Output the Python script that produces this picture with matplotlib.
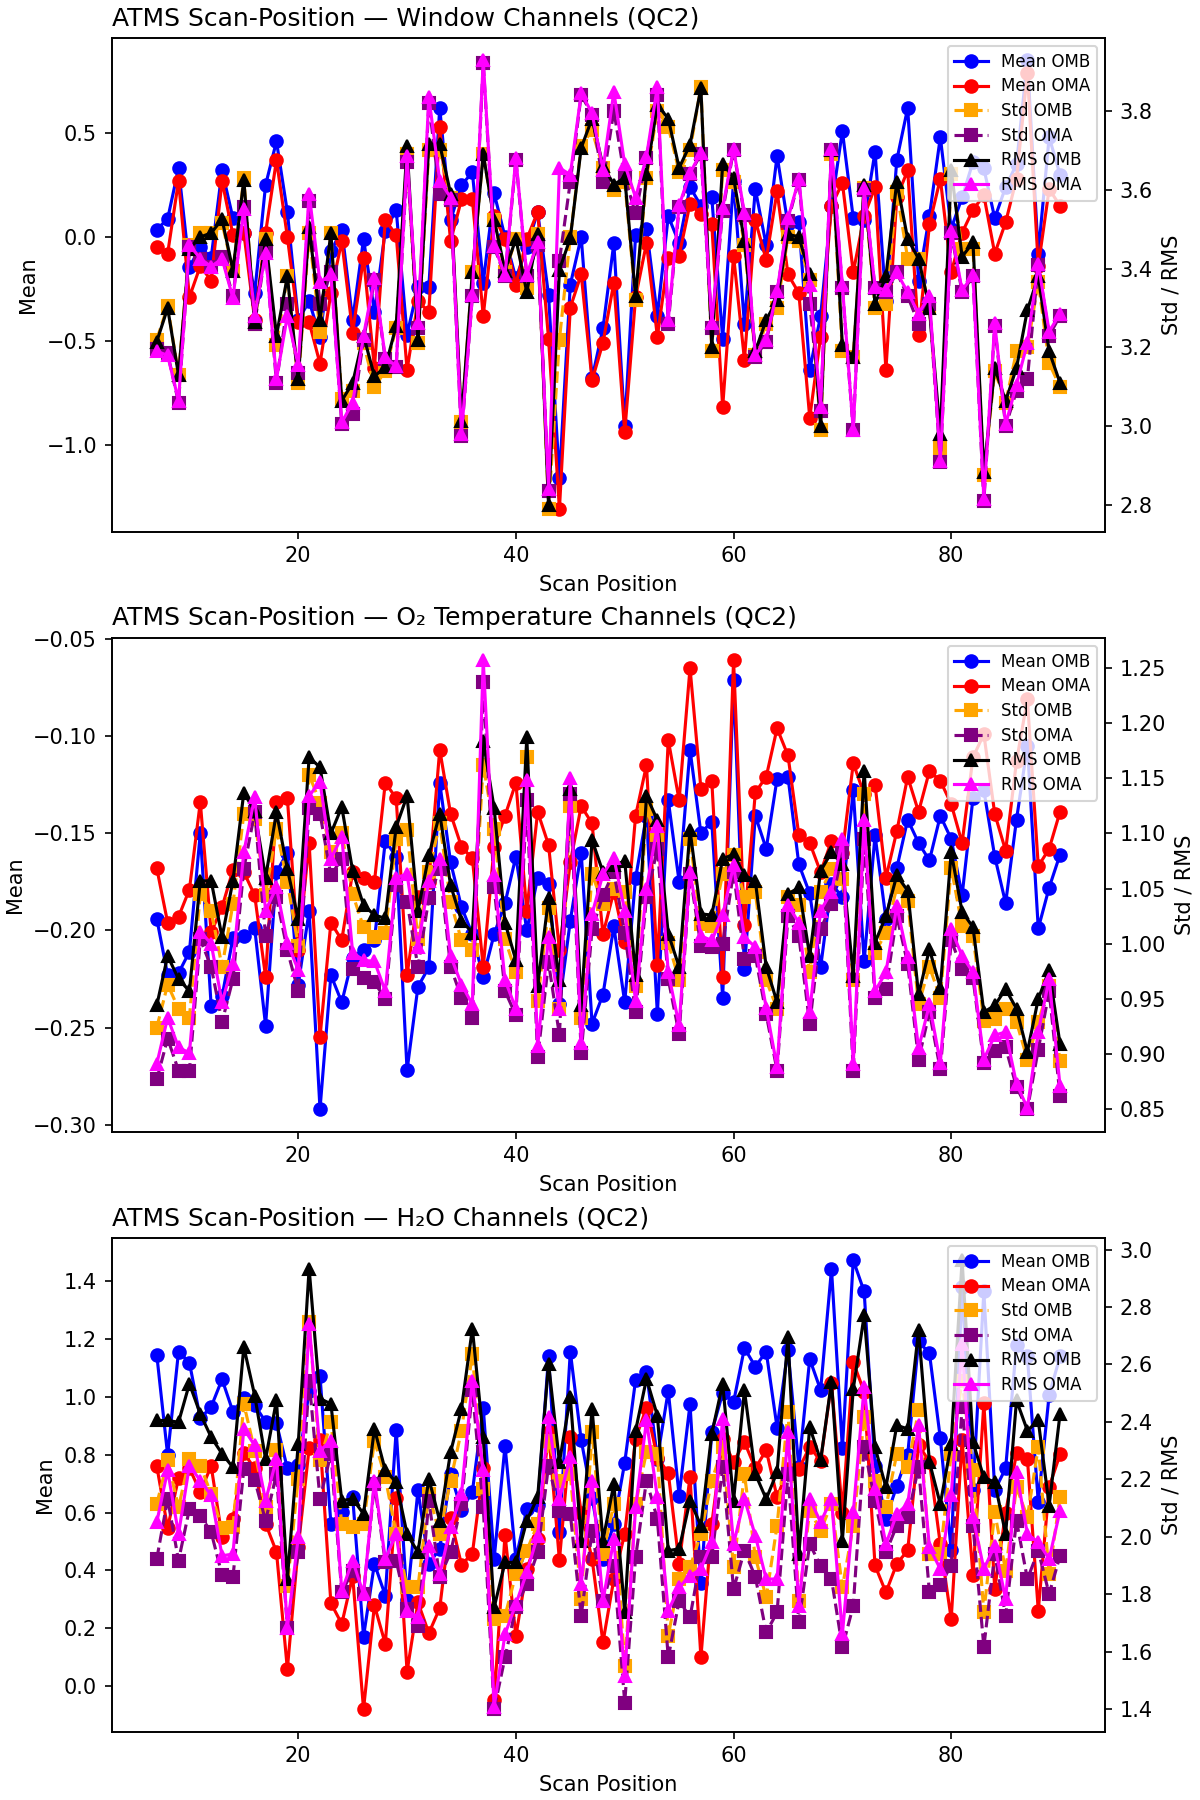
import numpy as np
import matplotlib
matplotlib.use("Agg")
import matplotlib.pyplot as plt

# scan positions 7..90
scanPos = list(range(7, 91))

# ---- Window channels ----
winMeanOMB = [0.035, 0.087, 0.33, -0.145, -0.05, -0.1, 0.32, 0.09, 0.02, -0.27,
              0.25, 0.46, 0.12, -0.4, -0.31, -0.48, -0.07, 0.035, -0.4, -0.01,
              -0.36, 0.03, 0.13, -0.47, -0.24, -0.24, 0.62, 0.08, 0.25, 0.31,
              -0.22, 0.21, 0.0, -0.2, -0.05, 0.12, -0.28, -1.16, -0.23, 0.0,
              -0.68, -0.44, -0.03, -0.91, 0.01, 0.04, -0.38, 0.1, -0.03, 0.24,
              0.15, 0.19, -0.49, 0.27, -0.42, 0.23, -0.04, 0.39, 0.06, 0.07,
              -0.64, -0.38, 0.15, 0.51, 0.09, 0.08, 0.41, -0.31, 0.37, 0.62,
              -0.21, 0.1, 0.48, 0.04, 0.19, 0.36, 0.33, 0.09, 0.24, 0.35,
              0.85, -0.08, 0.48, 0.3]
winMeanOMA = [-0.05, -0.08, 0.27, -0.29, -0.14, -0.21, 0.27, 0.01, 0.02, -0.4,
              0.02, 0.37, 0.0, -0.41, -0.41, -0.61, -0.27, -0.02, -0.46, -0.1,
              -0.63, 0.08, 0.01, -0.64, -0.31, -0.36, 0.53, -0.02, 0.18, 0.18,
              -0.38, 0.1, -0.01, -0.23, -0.01, 0.12, -0.49, -1.31, -0.34, -0.18,
              -0.69, -0.51, -0.22, -0.94, -0.29, -0.03, -0.48, -0.1, -0.09, 0.16,
              0.11, 0.06, -0.82, -0.09, -0.59, 0.08, -0.11, 0.22, -0.18, -0.27,
              -0.87, -0.48, 0.15, 0.26, -0.17, 0.1, 0.24, -0.64, 0.19, 0.32,
              -0.47, 0.06, 0.28, -0.17, 0.02, 0.13, 0.2, -0.08, 0.07, 0.28,
              0.79, -0.14, 0.23, 0.15]
winStdOMB = [3.22, 3.305, 3.13, 3.46, 3.49, 3.49, 3.515, 3.395, 3.63, 3.26,
             3.475, 3.205, 3.38, 3.11, 3.49, 3.24, 3.49, 3.07, 3.09, 3.21,
             3.1, 3.14, 3.25, 3.69, 3.21, 3.70, 3.70, 3.58, 3.01, 3.39,
             3.69, 3.524, 3.39, 3.475, 3.35, 3.488, 2.79, 3.22, 3.48, 3.71,
             3.75, 3.655, 3.60, 3.62, 3.32, 3.63, 3.80, 3.76, 3.645, 3.70,
             3.86, 3.19, 3.65, 3.62, 3.46, 3.18, 3.26, 3.30, 3.48, 3.47,
             3.37, 2.99, 3.69, 3.19, 3.175, 3.605, 3.30, 3.31, 3.595, 3.425,
             3.425, 3.3, 2.945, 3.64, 3.45, 3.45, 2.876, 3.14, 3.06, 3.19,
             3.20, 3.365, 3.16, 3.10]
winStdOMA = [3.195, 3.185, 3.06, 3.455, 3.425, 3.405, 3.43, 3.33, 3.555, 3.26,
             3.445, 3.11, 3.31, 3.135, 3.57, 3.31, 3.39, 3.005, 3.03, 3.22,
             3.37, 3.17, 3.15, 3.67, 3.25, 3.82, 3.59, 3.575, 2.975, 3.33,
             3.92, 3.455, 3.38, 3.675, 3.38, 3.46, 2.835, 3.42, 3.62, 3.84,
             3.79, 3.62, 3.80, 3.63, 3.54, 3.68, 3.84, 3.26, 3.555, 3.64,
             3.69, 3.25, 3.545, 3.70, 3.535, 3.175, 3.215, 3.34, 3.52, 3.625,
             3.31, 3.04, 3.70, 3.35, 2.99, 3.60, 3.35, 3.34, 3.39, 3.33,
             3.26, 3.31, 2.91, 3.49, 3.34, 3.38, 2.81, 3.255, 3.0, 3.09,
             3.12, 3.41, 3.23, 3.28]
winRmsOMB = [3.215, 3.30, 3.13, 3.45, 3.48, 3.49, 3.525, 3.395, 3.625, 3.265,
             3.475, 3.23, 3.38, 3.12, 3.505, 3.27, 3.49, 3.065, 3.11, 3.23,
             3.127, 3.15, 3.255, 3.71, 3.218, 3.715, 3.715, 3.59, 3.014, 3.39,
             3.69, 3.524, 3.395, 3.475, 3.34, 3.488, 2.8, 3.397, 3.477, 3.706,
             3.78, 3.66, 3.613, 3.63, 3.33, 3.64, 3.815, 3.78, 3.655, 3.714,
             3.857, 3.2, 3.666, 3.63, 3.47, 3.19, 3.27, 3.32, 3.487, 3.48,
             3.385, 3.0, 3.7, 3.205, 3.175, 3.613, 3.31, 3.38, 3.62, 3.475,
             3.425, 3.3, 2.98, 3.65, 3.43, 3.466, 2.884, 3.148, 3.064, 3.148,
             3.295, 3.38, 3.19, 3.11]
winRmsOMA = [3.19, 3.18, 3.065, 3.46, 3.425, 3.405, 3.425, 3.325, 3.55, 3.28,
             3.44, 3.12, 3.28, 3.155, 3.59, 3.365, 3.385, 3.01, 3.06, 3.23,
             3.375, 3.175, 3.152, 3.685, 3.262, 3.835, 3.622, 3.58, 2.98, 3.332,
             3.928, 3.458, 3.383, 3.68, 3.383, 3.467, 2.84, 3.655, 3.638, 3.844,
             3.794, 3.651, 3.848, 3.664, 3.58, 3.684, 3.861, 3.27, 3.56, 3.642,
             3.694, 3.263, 3.553, 3.704, 3.54, 3.18, 3.22, 3.342, 3.527, 3.626,
             3.357, 3.05, 3.704, 3.357, 2.99, 3.605, 3.353, 3.345, 3.39, 3.34,
             3.286, 3.33, 2.913, 3.496, 3.345, 3.383, 2.817, 3.261, 3.005, 3.106,
             3.211, 3.412, 3.24, 3.286]

# ---- O2 temperature channels ----
o2MeanOMB = [-0.194, -0.223, -0.222, -0.211, -0.150, -0.239, -0.234, -0.204, -0.203, -0.199,
             -0.249, -0.170, -0.160, -0.228, -0.190, -0.292, -0.223, -0.237, -0.214, -0.210,
             -0.205, -0.154, -0.162, -0.272, -0.229, -0.219, -0.124, -0.165, -0.188, -0.202,
             -0.224, -0.202, -0.186, -0.162, -0.200, -0.173, -0.176, -0.238, -0.195, -0.160,
             -0.248, -0.233, -0.198, -0.237, -0.173, -0.141, -0.243, -0.133, -0.175, -0.107,
             -0.150, -0.144, -0.235, -0.071, -0.220, -0.141, -0.158, -0.122, -0.121, -0.166,
             -0.181, -0.219, -0.176, -0.183, -0.128, -0.216, -0.151, -0.194, -0.168, -0.143,
             -0.155, -0.164, -0.141, -0.153, -0.182, -0.132, -0.128, -0.162, -0.186, -0.143,
             -0.105, -0.199, -0.178, -0.161]
o2MeanOMA = [-0.168, -0.196, -0.193, -0.179, -0.134, -0.201, -0.188, -0.169, -0.170, -0.182,
             -0.224, -0.134, -0.132, -0.21, -0.155, -0.255, -0.196, -0.205, -0.170, -0.173,
             -0.175, -0.124, -0.132, -0.223, -0.183, -0.175, -0.107, -0.140, -0.157, -0.163,
             -0.219, -0.157, -0.141, -0.124, -0.190, -0.139, -0.156, -0.21, -0.165, -0.136,
             -0.145, -0.202, -0.18, -0.206, -0.141, -0.115, -0.218, -0.102, -0.133, -0.065,
             -0.127, -0.123, -0.224, -0.061, -0.197, -0.129, -0.121, -0.096, -0.110, -0.151,
             -0.155, -0.17, -0.154, -0.16, -0.114, -0.13, -0.125, -0.173, -0.149, -0.121,
             -0.139, -0.118, -0.123, -0.135, -0.155, -0.111, -0.099, -0.140, -0.159, -0.113,
             -0.081, -0.167, -0.158, -0.139]
o2StdOMB = [0.924, 0.963, 0.941, 0.933, 1.045, 1.030, 0.979, 1.036, 1.118, 1.113,
            1.044, 1.104, 1.056, 0.998, 1.153, 1.128, 1.083, 1.10, 1.045, 1.015,
            1.006, 1.01, 1.095, 1.103, 1.004, 1.065, 1.109, 1.038, 1.003, 0.994,
            1.162, 1.104, 1.004, 0.974, 1.169, 0.948, 1.032, 0.941, 1.125, 0.933,
            1.063, 1.036, 1.05, 1.047, 0.962, 1.122, 1.095, 1.001, 0.967, 1.095,
            1.018, 1.016, 1.063, 1.080, 1.042, 1.047, 0.967, 0.941, 1.042, 1.035,
            0.974, 1.047, 1.068, 1.059, 0.967, 1.136, 0.992, 1.010, 1.051, 1.039,
            0.945, 0.979, 0.951, 1.069, 1.016, 1.007, 0.930, 0.932, 0.941, 0.929,
            0.895, 0.929, 0.962, 0.894]
o2StdOMA = [0.877, 0.914, 0.885, 0.885, 1.004, 0.979, 0.929, 0.968, 1.068, 1.119,
            1.007, 1.042, 0.994, 0.957, 1.123, 1.118, 1.062, 1.077, 0.977, 0.969,
            0.965, 0.950, 1.053, 1.038, 0.979, 1.041, 1.068, 0.979, 0.951, 0.933,
            1.237, 1.051, 0.957, 0.935, 1.130, 0.897, 0.983, 0.917, 1.136, 0.901,
            1.013, 1.044, 1.065, 1.010, 0.938, 1.042, 1.086, 0.968, 0.918, 1.063,
            0.998, 0.997, 1.0, 1.065, 0.986, 0.989, 0.936, 0.885, 1.025, 1.007,
            0.927, 1.013, 1.036, 1.083, 0.885, 1.095, 0.951, 0.959, 1.025, 0.982,
            0.895, 0.938, 0.886, 1.003, 0.977, 0.969, 0.892, 0.903, 0.906, 0.870,
            0.850, 0.904, 0.957, 0.862]
o2RmsOMB = [0.944, 0.989, 0.968, 0.957, 1.057, 1.057, 1.006, 1.057, 1.137, 1.12,
            1.060, 1.119, 1.068, 1.022, 1.169, 1.160, 1.100, 1.124, 1.066, 1.035,
            1.026, 1.023, 1.106, 1.134, 1.030, 1.080, 1.118, 1.053, 1.021, 1.010,
            1.184, 1.123, 1.019, 0.985, 1.187, 0.962, 1.041, 0.967, 1.140, 0.944,
            1.094, 1.065, 1.071, 1.075, 0.972, 1.134, 1.112, 1.009, 0.979, 1.103,
            1.027, 1.026, 1.077, 1.081, 1.062, 1.057, 0.979, 0.947, 1.045, 1.051,
            0.989, 1.066, 1.083, 1.072, 0.971, 1.157, 1.001, 1.025, 1.062, 1.048,
            0.954, 0.995, 0.960, 1.083, 1.029, 1.015, 0.938, 0.944, 0.959, 0.941,
            0.902, 0.950, 0.976, 0.909]
o2RmsOMA = [0.891, 0.933, 0.906, 0.901, 1.011, 1.0, 0.947, 0.982, 1.083, 1.133,
            1.030, 1.051, 1.001, 0.976, 1.134, 1.147, 1.077, 1.097, 0.992, 0.985,
            0.984, 0.957, 1.060, 1.063, 0.997, 1.057, 1.077, 0.989, 0.963, 0.945,
            1.257, 1.062, 0.967, 0.941, 1.148, 0.907, 1.006, 0.941, 1.150, 0.910,
            1.027, 1.063, 1.078, 1.030, 0.948, 1.050, 1.107, 0.974, 0.926, 1.065,
            1.007, 1.003, 1.026, 1.071, 1.006, 0.997, 0.942, 0.888, 1.035, 1.019,
            0.938, 1.030, 1.047, 1.095, 0.891, 1.112, 0.957, 0.974, 1.034, 0.988,
            0.905, 0.945, 0.892, 1.013, 0.989, 0.974, 0.895, 0.917, 0.920, 0.873,
            0.851, 0.920, 0.968, 0.871]

# ---- H2O channels ----
h2oMeanOMB = [1.146, 0.799, 1.157, 1.119, 0.926, 0.966, 1.061, 0.949, 0.998, 0.972,
              0.914, 0.909, 0.753, 0.764, 1.019, 1.073, 0.562, 0.602, 0.654, 0.171,
              0.423, 0.313, 0.886, 0.296, 0.677, 0.423, 0.475, 0.735, 0.608, 0.672,
              0.963, 0.440, 0.831, 0.44, 0.612, 0.625, 1.140, 0.533, 1.157, 0.851,
              0.65, 0.44, 0.56, 0.773, 1.059, 1.088, 0.787, 1.021, 0.658, 0.975,
              0.357, 0.880, 1.013, 0.982, 1.169, 1.105, 1.157, 0.894, 1.163, 0.758,
              1.131, 1.024, 1.442, 0.822, 1.473, 1.365, 0.76, 0.579, 0.692, 0.80,
              1.192, 1.151, 0.857, 0.469, 1.38, 0.677, 1.365, 0.677, 0.753, 1.18,
              1.14, 0.637, 1.007, 1.14]
h2oMeanOMA = [0.761, 0.547, 0.72, 0.753, 0.672, 0.761, 0.516, 0.579, 0.805, 0.753,
              0.562, 0.464, 0.059, 0.481, 0.822, 0.851, 0.287, 0.215, 0.38, -0.08,
              0.279, 0.146, 0.649, 0.050, 0.29, 0.183, 0.269, 0.58, 0.420, 0.458,
              0.753, -0.05, 0.524, 0.172, 0.406, 0.51, 0.880, 0.435, 0.862, 0.6,
              0.440, 0.151, 0.37, 0.527, 0.856, 0.963, 0.79, 0.738, 0.423, 0.724,
              0.099, 0.56, 0.856, 0.775, 0.844, 0.753, 0.816, 0.654, 0.75, 0.75,
              0.828, 0.778, 1.047, 0.6, 1.120, 1.018, 0.417, 0.324, 0.423, 0.469,
              0.834, 0.776, 0.49, 0.232, 0.85, 0.383, 0.978, 0.336, 0.6, 0.805,
              0.787, 0.261, 0.689, 0.801]
h2oStdOMB = [2.114, 2.266, 2.103, 2.271, 2.248, 2.149, 2.031, 2.033, 2.463, 2.300,
             2.103, 2.303, 1.830, 2.202, 2.748, 2.266, 2.399, 2.045, 2.033, 2.045,
             2.335, 2.207, 2.01, 1.824, 1.824, 2.149, 2.010, 2.196, 2.370, 2.637,
             2.167, 1.713, 1.725, 1.870, 1.952, 2.045, 2.335, 2.196, 2.219, 1.783,
             2.364, 1.940, 2.114, 1.551, 2.114, 2.295, 2.289, 1.655, 1.853, 1.894,
             2.010, 2.196, 2.312, 1.894, 2.219, 1.929, 1.789, 2.039, 2.434, 1.777,
             2.091, 2.022, 2.114, 1.824, 2.039, 2.417, 2.196, 2.103, 2.289, 2.242,
             2.440, 1.940, 1.940, 2.289, 2.544, 2.231, 1.737, 2.085, 1.882, 2.173,
             2.068, 2.312, 1.870, 2.138]
h2oStdOMA = [1.923, 2.132, 1.917, 2.097, 2.074, 2.016, 1.867, 1.859, 2.236, 2.198,
             2.056, 2.219, 1.684, 1.946, 2.544, 2.132, 2.289, 1.807, 1.882, 1.801,
             2.184, 1.911, 1.917, 1.748, 1.690, 2.126, 1.859, 1.946, 2.114, 2.510,
             2.103, 1.400, 1.580, 1.754, 1.836, 1.946, 2.248, 2.091, 2.08, 1.725,
             2.02, 1.777, 1.90, 1.423, 1.929, 2.196, 2.062, 1.580, 1.777, 1.720,
             1.93, 1.929, 2.242, 1.818, 1.952, 1.861, 1.667, 1.737, 2.219, 1.702,
             1.975, 1.899, 1.853, 1.615, 1.760, 2.312, 2.126, 1.946, 2.039, 2.068,
             2.242, 1.807, 1.833, 1.9, 2.451, 2.039, 1.617, 1.940, 1.725, 2.056,
             1.853, 1.952, 1.801, 1.934]
h2oRmsOMB = [2.405, 2.405, 2.399, 2.533, 2.428, 2.347, 2.289, 2.242, 2.661, 2.492,
             2.271, 2.475, 1.853, 2.324, 2.934, 2.481, 2.463, 2.126, 2.132, 2.080,
             2.376, 2.231, 2.190, 2.010, 1.946, 2.202, 2.056, 2.295, 2.446, 2.725,
             2.347, 1.754, 1.911, 1.911, 2.056, 2.138, 2.603, 2.260, 2.486, 1.987,
             2.446, 1.987, 2.184, 1.737, 2.370, 2.550, 2.422, 1.952, 1.958, 2.126,
             2.039, 2.359, 2.533, 2.126, 2.510, 2.219, 2.132, 2.225, 2.696, 1.940,
             2.382, 2.266, 2.539, 1.987, 2.515, 2.771, 2.312, 2.173, 2.388, 2.376,
             2.719, 2.260, 2.114, 2.324, 2.963, 2.329, 2.207, 2.190, 2.010, 2.475,
             2.370, 2.405, 2.109, 2.428]
h2oRmsOMA = [2.051, 2.231, 2.010, 2.248, 2.196, 2.144, 1.934, 1.940, 2.376, 2.318,
             2.126, 2.271, 1.684, 1.998, 2.742, 2.300, 2.335, 1.812, 1.917, 1.801,
             2.196, 1.923, 2.010, 1.743, 1.720, 1.969, 1.870, 2.033, 2.149, 2.544,
             2.231, 1.408, 1.661, 1.766, 1.876, 2.004, 2.417, 2.132, 2.277, 1.836,
             2.196, 1.777, 1.992, 1.516, 2.103, 2.405, 2.138, 1.743, 1.824, 1.865,
             1.888, 1.981, 2.411, 1.975, 2.132, 2.004, 1.853, 1.853, 2.364, 1.760,
             2.132, 2.051, 2.132, 1.661, 2.085, 2.521, 2.167, 1.975, 2.080, 2.114,
             2.388, 1.963, 1.888, 2.144, 2.672, 2.068, 1.888, 1.969, 1.783, 2.225,
             2.010, 1.981, 1.923, 2.091]

panelTitles = ["ATMS Scan-Position \u2014 Window Channels (QC2)",
               "ATMS Scan-Position \u2014 O\u2082 Temperature Channels (QC2)",
               "ATMS Scan-Position \u2014 H\u2082O Channels (QC2)"]

panelData = [
    (winMeanOMB, winMeanOMA, winStdOMB, winStdOMA, winRmsOMB, winRmsOMA),
    (o2MeanOMB, o2MeanOMA, o2StdOMB, o2StdOMA, o2RmsOMB, o2RmsOMA),
    (h2oMeanOMB, h2oMeanOMA, h2oStdOMB, h2oStdOMA, h2oRmsOMB, h2oRmsOMA),
]

fig, axes = plt.subplots(3, 1, figsize=(8, 12), dpi=150)
fig.subplots_adjust(left=0.093, right=0.921, top=0.979, bottom=0.038, hspace=0.215)

for ax, title, data in zip(axes, panelTitles, panelData):
    meanOMB, meanOMA, stdOMB, stdOMA, rmsOMB, rmsOMA = data

    # means on the left axis
    l1, = ax.plot(scanPos, meanOMB, color="blue", marker="o", label="Mean OMB")
    l2, = ax.plot(scanPos, meanOMA, color="red", marker="o", label="Mean OMA")
    ax.set_xlabel("Scan Position")
    ax.set_ylabel("Mean")
    ax.set_title(title, loc="left", fontsize=12)

    # std / rms on the right axis
    ax2 = ax.twinx()
    l3, = ax2.plot(scanPos, stdOMB, color="orange", marker="s", linestyle="--", label="Std OMB")
    l4, = ax2.plot(scanPos, stdOMA, color="purple", marker="s", linestyle="--", label="Std OMA")
    l5, = ax2.plot(scanPos, rmsOMB, color="black", marker="^", label="RMS OMB")
    l6, = ax2.plot(scanPos, rmsOMA, color="magenta", marker="^", label="RMS OMA")
    ax2.set_ylabel("Std / RMS")

    lines = [l1, l2, l3, l4, l5, l6]
    ax2.legend(lines, [l.get_label() for l in lines], loc="upper right",
               fontsize=8, labelspacing=0.4)

fig.savefig("out.png")
